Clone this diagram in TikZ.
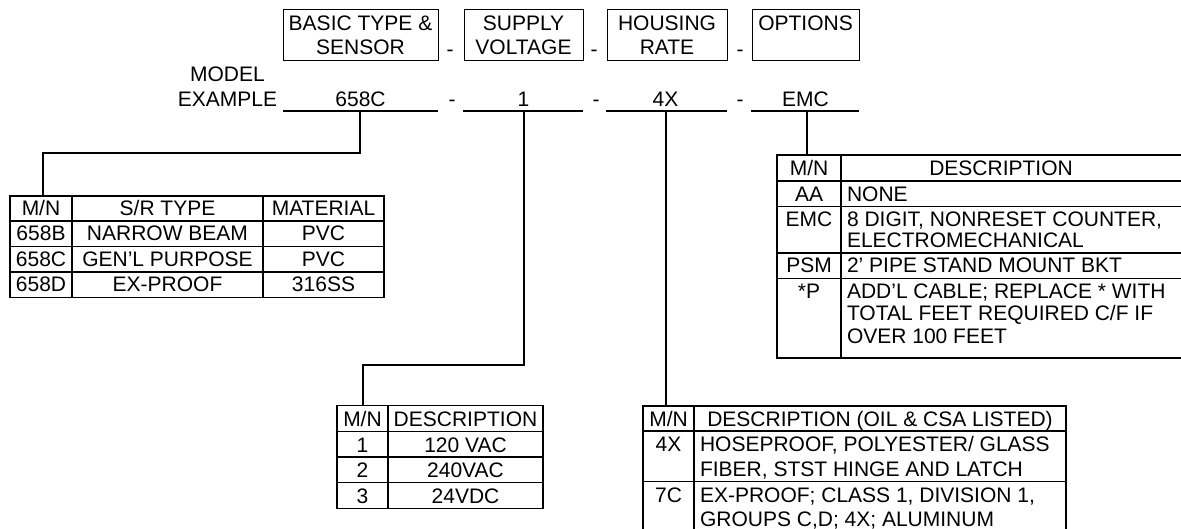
\documentclass[tikz,border=0pt]{standalone}
\usepackage{fontspec}
\setmainfont{Liberation Sans}
\begin{document}
\begin{tikzpicture}[x=1pt,y=-1pt,
  every node/.style={inner sep=0pt, outer sep=0pt, font=\fontsize{21}{24}\selectfont},
  hdr/.style={draw, line width=0.9pt, anchor=north west},
  tbl/.style={draw, line width=1.2pt, anchor=north west},
  lbl/.style={anchor=base},
  lbll/.style={anchor=base west},
  uline/.style={line width=1.2pt},
  conn/.style={line width=2pt},
  gridl/.style={line width=1.2pt}]
\useasboundingbox (0,0) rectangle (1181,529);

% header boxes
\node[hdr, minimum width=155pt, minimum height=50.5pt] (h1) at (283,9.5) {};
\node[hdr, minimum width=119pt, minimum height=50.5pt] (h2) at (464,9.5) {};
\node[hdr, minimum width=120pt, minimum height=50.5pt] (h3) at (607,9.5) {};
\node[hdr, minimum width=107pt, minimum height=50.5pt] (h4) at (752,9.5) {};
\node[lbl] (t1a) at (360.5,31) {BASIC TYPE \&};
\node[lbl] (t1b) at (360.5,55) {SENSOR};
\node[lbl] (t2a) at (523.5,31) {SUPPLY};
\node[lbl] (t2b) at (523.5,55) {VOLTAGE};
\node[lbl] (t3a) at (667,31) {HOUSING};
\node[lbl] (t3b) at (667,55) {RATE};
\node[lbl] (t4a) at (805.5,31) {OPTIONS};
\node[lbl] (d1) at (450,57) {-};
\node[lbl] (d2) at (594,57) {-};
\node[lbl] (d3) at (740,57) {-};

% model example line
\node[lbl] (mdl) at (227.5,82) {MODEL};
\node[lbl] (exm) at (227.5,106.5) {EXAMPLE};
\node[lbl] (v1) at (360.5,106.5) {658C};
\node[lbl] (v2) at (523.5,106.5) {1};
\node[lbl] (v3) at (665.5,106.5) {4X};
\node[lbl] (v4) at (805.5,106.5) {EMC};
\node[lbl] (e1) at (452,107) {-};
\node[lbl] (e2) at (596,107) {-};
\node[lbl] (e3) at (740,107) {-};
\draw[uline] (283,111) -- (438,111);
\draw[uline] (463,111) -- (583,111);
\draw[uline] (606,111) -- (727,111);
\draw[uline] (751,111) -- (859,111);
\coordinate (u1) at (360,111);
\coordinate (u2) at (524,111);
\coordinate (u3) at (666,111);
\coordinate (u4) at (807,111);

% table A (basic type)
\node[tbl, minimum width=374pt, minimum height=101.5pt] (tA) at (10,196) {};
\draw[gridl] (10,221) -- (384,221) (10,246.5) -- (384,246.5) (10,272) -- (384,272);
\draw[gridl] (72,196) -- (72,297.5) (263,196) -- (263,297.5);
\node[lbl] at (41,215.5) {M/N};
\node[lbl] at (167.5,215.5) {S/R TYPE};
\node[lbl] at (323.5,215.5) {MATERIAL};
\node[lbl] at (41,241) {658B};
\node[lbl] at (167.5,241) {NARROW BEAM};
\node[lbl] at (323.5,241) {PVC};
\node[lbl] at (41,266.5) {658C};
\node[lbl] at (167.5,266.5) {GEN’L PURPOSE};
\node[lbl] at (323.5,266.5) {PVC};
\node[lbl] at (41,292) {658D};
\node[lbl] at (167.5,292) {EX-PROOF};
\node[lbl] at (323.5,292) {316SS};
\coordinate (tAin) at (43,196);

% table B (supply voltage)
\node[tbl, minimum width=206pt, minimum height=103pt] (tB) at (337,405.5) {};
\draw[gridl] (337,431.5) -- (543,431.5) (337,457) -- (543,457) (337,482.5) -- (543,482.5);
\draw[gridl] (388,405.5) -- (388,508.5);
\node[lbl] at (362.5,426.5) {M/N};
\node[lbl] at (465.5,426.5) {DESCRIPTION};
\node[lbl] at (362.5,452) {1};
\node[lbl] at (465.5,452) {120 VAC};
\node[lbl] at (362.5,477.5) {2};
\node[lbl] at (465.5,477.5) {240VAC};
\node[lbl] at (362.5,503) {3};
\node[lbl] at (465.5,503) {24VDC};
\coordinate (tBin) at (363,405.5);

% table C (housing rate)
\draw[gridl] (643,535) -- (643,406) -- (1066,406) -- (1066,535);
\draw[gridl] (643,431) -- (1066,431) (643,481.5) -- (1066,481.5);
\draw[gridl] (694,406) -- (694,535);
\node[lbl] at (668.5,426) {M/N};
\node[lbl] at (880,426) {DESCRIPTION (OIL \& CSA LISTED)};
\node[lbl] at (668.5,451.5) {4X};
\node[lbll] at (700,451.5) {HOSEPROOF, POLYESTER/ GLASS};
\node[lbll] at (700,476.5) {FIBER, STST HINGE AND LATCH};
\node[lbl] at (668.5,502.5) {7C};
\node[lbll] at (700,502.5) {EX-PROOF; CLASS 1, DIVISION 1,};
\node[lbll] at (700,526.5) {GROUPS C,D; 4X; ALUMINUM};
\coordinate (tCin) at (666,406);

% table D (options)
\draw[gridl] (1190,155) -- (777,155) -- (777,358) -- (1190,358);
\draw[gridl] (777,181) -- (1190,181) (777,206.5) -- (1190,206.5) (777,253) -- (1190,253) (777,278.5) -- (1190,278.5);
\draw[gridl] (841,155) -- (841,358);
\node[lbl] at (809,175.5) {M/N};
\node[lbl] at (1001,175.5) {DESCRIPTION};
\node[lbl] at (809,201.5) {AA};
\node[lbll] at (847,201.5) {NONE};
\node[lbl] at (809,226.5) {EMC};
\node[lbll] at (847,226.5) {8 DIGIT, NONRESET COUNTER,};
\node[lbll] at (847,248) {ELECTROMECHANICAL};
\node[lbl] at (809,273) {PSM};
\node[lbll] at (847,273) {2’ PIPE STAND MOUNT BKT};
\node[lbl] at (809,298.5) {*P};
\node[lbll] at (847,298.5) {ADD’L CABLE; REPLACE * WITH};
\node[lbll] at (847,321) {TOTAL FEET REQUIRED C/F IF};
\node[lbll] at (847,343.5) {OVER 100 FEET};
\coordinate (tDin) at (807,155);

% connectors
\draw[conn] (u1) -- ++(0,42) -| (tAin);
\draw[conn] (u2) -- ++(0,254) -| (tBin);
\draw[conn] (u3) -- (tCin);
\draw[conn] (u4) -- (tDin);
\end{tikzpicture}
\end{document}
